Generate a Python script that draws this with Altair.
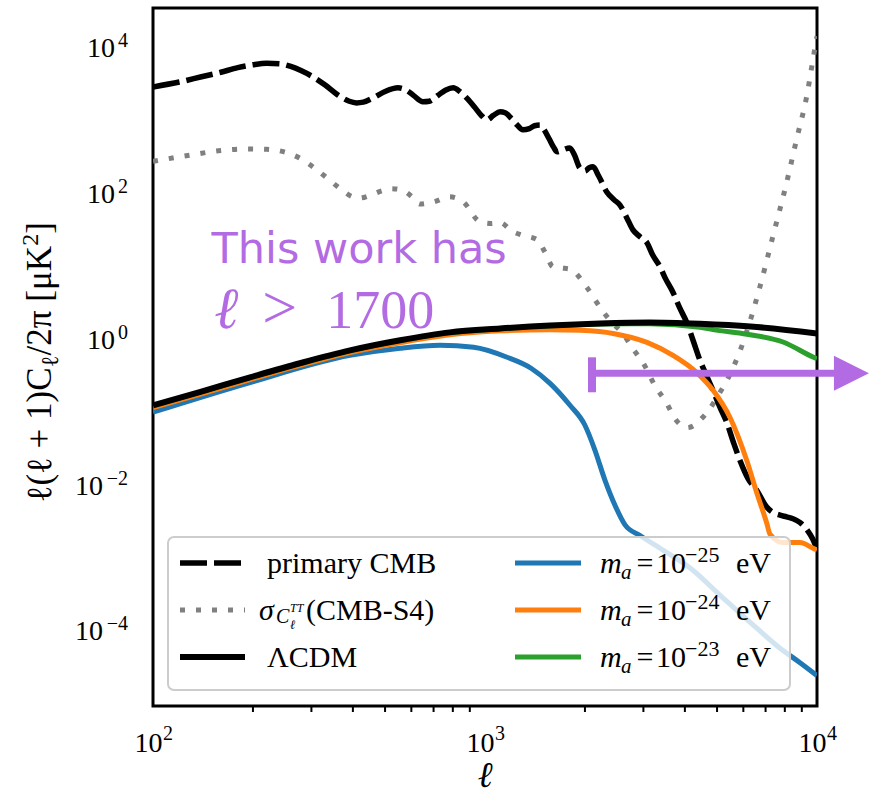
import altair as alt
import pandas as pd

# ---------------- spectra: multipole ell and D_ell = ell(ell+1)C_ell/2pi [muK^2] ----------------
ell_cmb = [100, 120, 140, 160, 180, 200, 220, 240, 260, 280, 300, 330, 360, 390, 410, 430, 460, 500,
           547, 580, 610, 650, 680, 720, 760, 802, 840, 880, 930, 975, 1014, 1060, 1110, 1150, 1200,
           1250, 1300, 1360, 1410, 1465, 1510, 1560, 1610, 1650, 1720, 1800, 1860, 1930, 2000, 2060,
           2115, 2200, 2330, 2450, 2550, 2670, 2790, 2930, 3075, 3200, 3365, 3500, 3685, 3850, 4058,
           4250, 4440, 4650, 4860, 5100, 5360, 5600, 5870, 6200, 6590, 7060, 7400, 7740, 8100, 8470,
           8900, 9330, 9700, 10000]
dl_cmb = [2830, 3300, 3900, 4500, 5200, 5700, 5980, 5900, 5400, 4700, 4000, 3000, 2200, 1800, 1710,
          1750, 2000, 2450, 2750, 2550, 2150, 1770, 1800, 2150, 2550, 2750, 2450, 2000, 1500, 1150,
          1000, 1150, 1290, 1250, 1050, 850, 730, 760, 830, 850, 720, 550, 420, 365, 390, 413, 330,
          219, 200, 220, 227, 170, 102, 80, 68, 46, 31, 25, 20.7, 14, 9.7, 6.6, 4.3, 2.7, 1.64, 0.9,
          0.506, 0.31, 0.196, 0.115, 0.069, 0.038, 0.021, 0.012, 0.0083, 0.0049, 0.0041, 0.0038,
          0.0036, 0.0034, 0.0030, 0.0024, 0.0018, 0.0013]

ell_s4 = [100, 130, 160, 192, 220, 250, 280, 310, 340, 370, 400, 420, 450, 490, 520, 560, 600, 637,
          700, 783, 860, 966, 1040, 1110, 1210, 1300, 1430, 1520, 1600, 1700, 1800, 2030, 2220, 2400,
          2600, 2780, 2990, 3280, 3530, 3680, 3850, 4050, 4250, 4440, 4760, 5050, 5360, 5870, 6300,
          6720, 7360, 8100, 8680, 9310, 9800, 10000]
sigma_s4 = [270, 330, 380, 400, 395, 360, 290, 210, 150, 110, 88, 85, 92, 107, 114, 110, 90, 70, 75,
            88, 75, 40, 38, 39, 29.5, 26, 23, 15, 9.7, 9.3, 9, 5, 2.7, 1.7, 1.18, 0.74, 0.47, 0.21,
            0.13, 0.089, 0.068, 0.06, 0.064, 0.076, 0.11, 0.17, 0.27, 0.69, 1.8, 5, 25, 138, 540,
            2100, 8300, 14000]

ell_lcdm = [100, 139, 196, 277, 392, 555, 783, 1110, 1570, 2220, 3130, 4440, 6300, 10000]
dl_lcdm = [0.122, 0.187, 0.295, 0.46, 0.69, 0.95, 1.22, 1.38, 1.52, 1.62, 1.67, 1.6, 1.47, 1.18]

ell_m23 = [100, 139, 196, 277, 392, 555, 783, 1110, 1570, 2220, 3130, 4440, 4860, 6150, 7900, 9725,
           10000]
dl_m23 = [0.121, 0.185, 0.292, 0.455, 0.683, 0.94, 1.21, 1.37, 1.5, 1.59, 1.6, 1.43, 1.33, 1.15, 0.9,
          0.56, 0.53]

ell_m24 = [100, 139, 196, 277, 392, 555, 783, 1110, 1570, 1932, 2430, 3076, 3684, 4352, 4863, 5470,
           6152, 6592, 7066, 7213, 7900, 8894, 9725, 10000]
dl_m24 = [0.113, 0.174, 0.275, 0.43, 0.645, 0.88, 1.13, 1.28, 1.33, 1.3, 1.18, 0.89, 0.59, 0.34, 0.196,
          0.083, 0.021, 0.0076, 0.0029, 0.0021, 0.0016, 0.0016, 0.00134, 0.00126]

ell_m25 = [100, 196, 392, 555, 732, 925, 1160, 1380, 1570, 1803, 2000, 2143, 2297, 2463, 2641, 2931,
           3436, 4140, 5100, 6280, 7740, 8890, 10000]
dl_m25 = [0.098, 0.25, 0.59, 0.74, 0.81, 0.76, 0.56, 0.39, 0.244, 0.122, 0.065, 0.0297, 0.0115, 0.0052,
          0.0028, 0.002, 0.00126, 0.00072, 0.000305, 0.00013, 0.000057, 0.000036, 0.000024]

# ---------------- axes ----------------
x_major = [100, 1000, 10000]
x_major_exp = ["2", "3", "4"]
x_minor = [200, 300, 400, 500, 600, 700, 800, 900, 2000, 3000, 4000, 5000, 6000, 7000, 8000, 9000]
y_pos = [1.0, 1e2, 1e4]
y_pos_exp = ["0", "2", "4"]
y_neg = [1e-4, 1e-2]
y_neg_exp = ["\u22124", "\u22122"]

# ---------------- annotation ----------------
arrow_start = 2100      # ell where the range bar begins
arrow_end = 11300       # ell where the shaft meets the head
arrow_head = 12700      # ell of the arrow-head centre
arrow_level = 0.335
cap_lo, cap_hi = 0.184, 0.555

W, H = 664, 698
SERIF = "Liberation Serif, Times New Roman, serif"
SANS = "DejaVu Sans"
PURPLE = "#b36be3"
BLUE, ORANGE, GREEN = "#1f77b4", "#ff7f0e", "#2ca02c"
GREY = "#808080"

xs = alt.Scale(type="log", domain=[100, 10000], nice=False)
ys = alt.Scale(type="log", domain=[10 ** -5.037, 10 ** 4.534], nice=False)


def curve(ell, val, color, width, dash=None, axes=False):
    df = pd.DataFrame({"ell": ell, "val": val})
    kw = dict(color=color, strokeWidth=width, clip=True, interpolate="monotone")
    if dash:
        kw["strokeDash"] = dash
    if axes:
        xax = alt.Axis(values=x_major, labels=False, ticks=True, tickSize=10, tickWidth=3,
                       tickColor="black", domain=False, grid=False, title=None)
        yax = alt.Axis(values=[1e-4, 1e-2, 1, 1e2, 1e4], labels=False, ticks=True, tickSize=10,
                       tickWidth=3, tickColor="black", domain=False, grid=False, title=None)
    else:
        xax, yax = None, None
    return alt.Chart(df).mark_line(**kw).encode(
        x=alt.X("ell:Q", scale=xs, axis=xax),
        y=alt.Y("val:Q", scale=ys, axis=yax),
    )


layers = [
    curve(ell_s4, sigma_s4, GREY, 5, dash=[5, 11], axes=True),
    curve(ell_cmb, dl_cmb, "black", 5.5, dash=[27, 7]),
    curve(ell_m25, dl_m25, BLUE, 5),
    curve(ell_m24, dl_m24, ORANGE, 5),
    curve(ell_m23, dl_m23, GREEN, 5),
    curve(ell_lcdm, dl_lcdm, "black", 6),
]

# minor ticks on the ell axis
minor_df = pd.DataFrame({"ell": x_minor})
layers.append(
    alt.Chart(minor_df).mark_rule(color="black", strokeWidth=2, clip=False).encode(
        x=alt.X("ell:Q", scale=xs, axis=None), y=alt.value(H), y2=alt.value(H + 6)
    )
)

# tick labels written as 10 with a raised exponent
xt = pd.DataFrame({"ell": x_major, "exp": x_major_exp})
layers.append(alt.Chart(xt).mark_text(text="10", align="right", baseline="alphabetic", dx=9.5,
                                      font=SERIF, fontSize=28, color="black").encode(
    x=alt.X("ell:Q", scale=xs, axis=None), y=alt.value(H + 46)))
layers.append(alt.Chart(xt).mark_text(align="left", baseline="alphabetic", dx=10,
                                      font=SERIF, fontSize=20, color="black").encode(
    x=alt.X("ell:Q", scale=xs, axis=None), y=alt.value(H + 34), text="exp:N"))

for vals, exps, base_x in [(y_pos, y_pos_exp, -38), (y_neg, y_neg_exp, -50)]:
    yt = pd.DataFrame({"val": vals, "exp": exps})
    layers.append(alt.Chart(yt).mark_text(text="10", align="right", baseline="alphabetic", dy=10,
                                          font=SERIF, fontSize=28, color="black").encode(
        x=alt.value(base_x), y=alt.Y("val:Q", scale=ys, axis=None)))
    layers.append(alt.Chart(yt).mark_text(align="right", baseline="alphabetic", dy=0,
                                          font=SERIF, fontSize=20, color="black").encode(
        x=alt.value(-25), y=alt.Y("val:Q", scale=ys, axis=None), text="exp:N"))

one = pd.DataFrame({"k": [0]})


def txt(s, x, y, size=30, style="normal", align="left", angle=0, color="black", font=SERIF):
    return alt.Chart(one).mark_text(text=s, font=font, fontSize=size, fontStyle=style, align=align,
                                    angle=angle, baseline="alphabetic", color=color).encode(
        x=alt.value(x), y=alt.value(y))


# axis titles: ell below, ell(ell+1)C_ell/2pi [muK^2] rotated on the left
layers.append(txt("\u2113", 332, 779, size=36, style="italic", align="center"))
YB = -102
layers += [
    txt("\u2113(\u2113 + 1)C", YB, 359.4, size=35, align="right", angle=270),
    txt("\u2113", YB + 7, 359.4, size=24, align="left", angle=270),
    txt("/2\u03c0 [\u03bcK", YB, 347.4, size=35, align="left", angle=270),
    txt("2", YB - 13, 237.7, size=24, align="left", angle=270),
    txt("]", YB, 225.7, size=35, align="left", angle=270),
]

# range arrow
arrow_df = pd.DataFrame({"x0": [arrow_start], "x1": [arrow_end], "xh": [arrow_head],
                         "y": [arrow_level], "ylo": [cap_lo], "yhi": [cap_hi]})
layers.append(alt.Chart(arrow_df).mark_rule(color=PURPLE, strokeWidth=7, clip=False).encode(
    x=alt.X("x0:Q", scale=xs, axis=None), x2="x1:Q", y=alt.Y("y:Q", scale=ys, axis=None)))
layers.append(alt.Chart(arrow_df).mark_rule(color=PURPLE, strokeWidth=8, clip=False).encode(
    x=alt.X("x0:Q", scale=xs, axis=None), y=alt.Y("ylo:Q", scale=ys, axis=None), y2="yhi:Q"))
layers.append(alt.Chart(arrow_df).mark_point(shape="M -1 -1 L 1 0 L -1 1 Z", size=1225, filled=True,
                                             opacity=1, color=PURPLE, strokeWidth=0, clip=False).encode(
    x=alt.X("xh:Q", scale=xs, axis=None), y=alt.Y("y:Q", scale=ys, axis=None)))

# annotation text
note_df = pd.DataFrame({"ell": [150, 153], "val": [11, 1.38]})
layers.append(alt.Chart(note_df.iloc[[0]]).mark_text(text="This work has", font=SANS, fontSize=43,
                                                     align="left", baseline="alphabetic", color=PURPLE).encode(
    x=alt.X("ell:Q", scale=xs, axis=None), y=alt.Y("val:Q", scale=ys, axis=None)))
for txt_, dx, style, size in [("\u2113", 0, "italic", 58), (">", 48, "normal", 62),
                              ("1700", 112, "normal", 54)]:
    layers.append(alt.Chart(note_df.iloc[[1]]).mark_text(text=txt_, font=SERIF, fontSize=size, dx=dx,
                                                         fontStyle=style, align="left",
                                                         baseline="alphabetic", color=PURPLE).encode(
        x=alt.X("ell:Q", scale=xs, axis=None), y=alt.Y("val:Q", scale=ys, axis=None)))

# legend frame
layers.append(alt.Chart(one).mark_rect(fill="white", fillOpacity=0.8, stroke="#cccccc", strokeWidth=2,
                                       cornerRadius=6).encode(
    x=alt.value(15), x2=alt.value(637), y=alt.value(529), y2=alt.value(682)))

row_y = [555, 602, 649]
legend_keys = [
    (27, 92, row_y[0], "black", 5.5, [27, 7]),
    (27, 92, row_y[1], GREY, 5, [5, 11]),
    (27, 92, row_y[2], "black", 6, None),
    (362, 428, row_y[0], BLUE, 5, None),
    (362, 428, row_y[1], ORANGE, 5, None),
    (362, 428, row_y[2], GREEN, 5, None),
]
for x0, x1, yy, c, w, d in legend_keys:
    kw = dict(color=c, strokeWidth=w)
    if d:
        kw["strokeDash"] = d
    layers.append(alt.Chart(one).mark_rule(**kw).encode(x=alt.value(x0), x2=alt.value(x1), y=alt.value(yy)))

b = [r + 10 for r in row_y]
layers += [
    txt("primary CMB", 114, b[0]),
    txt("\u03c3", 106, b[1], style="italic"),
    txt("C", 123, b[1] + 3, size=20, style="italic"),
    txt("TT", 137, b[1] - 8, size=12, style="italic"),
    txt("\u2113", 137, b[1] + 9, size=13, style="italic"),
    txt("(CMB-S4)", 153, b[1]),
    txt("\u039bCDM", 114, b[2]),
]
mass_exp = ["\u221225", "\u221224", "\u221223"]
for yb, e in zip(b, mass_exp):
    layers += [
        txt("m", 447, yb, style="italic"),
        txt("a", 468, yb + 6, size=21, style="italic"),
        txt("=", 492, yb, align="center"),
        txt("10", 503, yb),
        txt(e, 532, yb - 11, size=22),
        txt("eV", 583, yb),
    ]

chart = alt.layer(*layers).properties(
    width=W, height=H,
    padding={"left": 153, "top": 8, "right": 52, "bottom": 91},
    autosize=alt.AutoSizeParams(type="none"),
).configure_view(stroke="black", strokeWidth=3)

chart.save("out.html", embed_options={"renderer": "svg", "actions": False})
